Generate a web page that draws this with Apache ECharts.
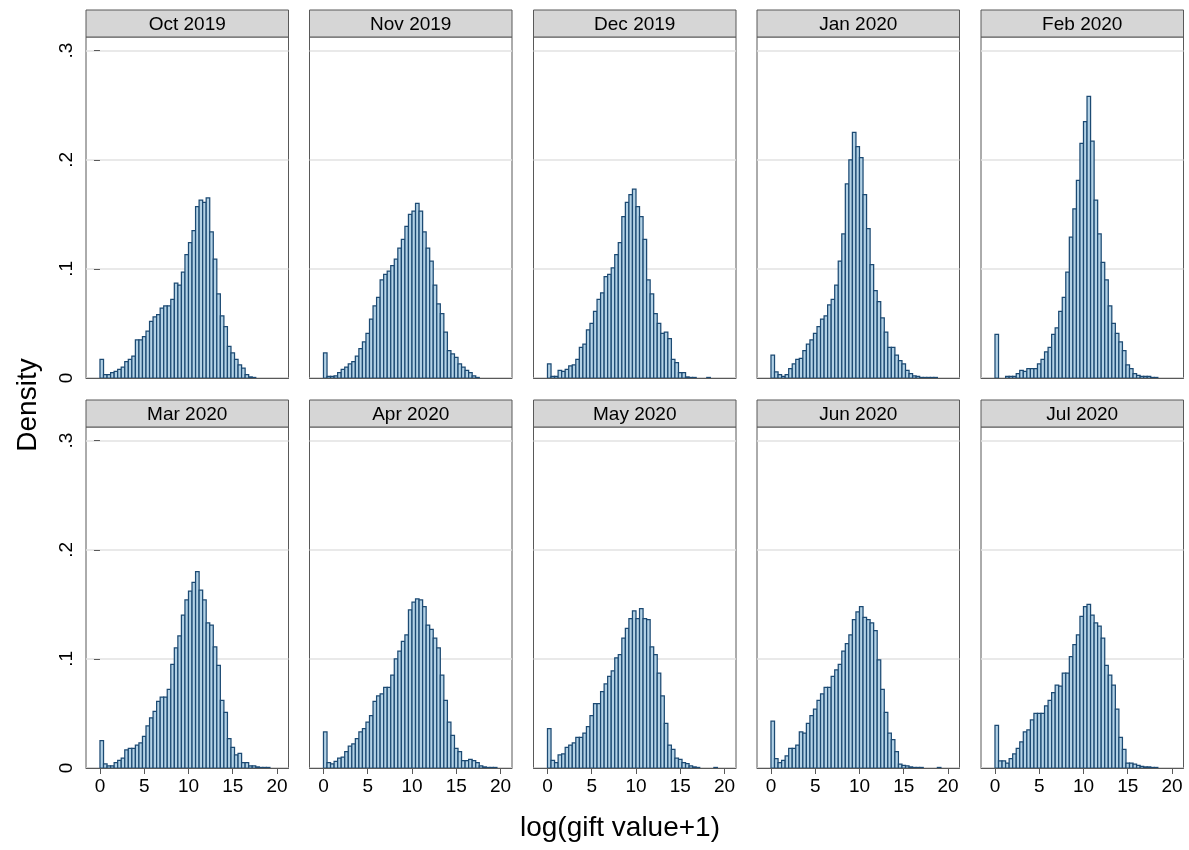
<!DOCTYPE html>
<html>
<head>
<meta charset="utf-8">
<script src="https://cdn.jsdelivr.net/npm/echarts@6/dist/echarts.min.js"></script>
<style>
html,body{margin:0;padding:0;background:#fff;}
#chart{width:1189px;height:850px;}
</style>
</head>
<body>
<div id="chart"></div>
<script>
// ---- data ----
const panelTitles = ['Oct 2019','Nov 2019','Dec 2019','Jan 2020','Feb 2020','Mar 2020','Apr 2020','May 2020','Jun 2020','Jul 2020'];
const binEdges = [0,0.4,0.8,1.2,1.6,2,2.4,2.8,3.2,3.6,4,4.4,4.8,5.2,5.6,6,6.4,6.8,7.2,7.6,8,8.4,8.8,9.2,9.6,10,10.4,10.8,11.2,11.6,12,12.4,12.8,13.2,13.6,14,14.4,14.8,15.2,15.6,16,16.4,16.8,17.2,17.6,18,18.4,18.8,19.2,19.6,20];
const xTickValues = [0,5,10,15,20];
const yTickValues = [0,0.1,0.2,0.3];
const yTickLabels = ['0','.1','.2','.3'];
const xTitle = 'log(gift value+1)';
const yTitle = 'Density';

const oct2019 = [0.017,0.003,0.003,0.005,0.006,0.008,0.010,0.015,0.017,0.020,
 0.035,0.035,0.038,0.043,0.052,0.056,0.058,0.064,0.066,0.066,
 0.072,0.087,0.085,0.097,0.113,0.124,0.135,0.157,0.163,0.161,
 0.165,0.134,0.109,0.077,0.057,0.047,0.029,0.023,0.017,0.012,
 0.009,0.003,0.001,0.0005,0,0,0,0,0,0];
const nov2019 = [0.023,0.0015,0.0015,0.002,0.005,0.008,0.010,0.013,0.015,0.020,
 0.027,0.033,0.041,0.054,0.066,0.074,0.090,0.095,0.098,0.103,
 0.109,0.119,0.127,0.139,0.150,0.153,0.160,0.153,0.134,0.119,
 0.107,0.085,0.068,0.059,0.042,0.025,0.022,0.019,0.013,0.010,
 0.007,0.005,0.002,0.0005,0,0,0,0,0,0];
const dec2019 = [0.013,0.0015,0.0015,0.007,0.006,0.008,0.011,0.012,0.017,0.028,
 0.031,0.044,0.050,0.061,0.072,0.078,0.093,0.095,0.101,0.113,
 0.124,0.148,0.161,0.168,0.173,0.157,0.148,0.127,0.090,0.077,
 0.059,0.050,0.041,0.042,0.036,0.017,0.014,0.005,0.005,0.001,
 0.0005,0.0005,0,0,0,0.0005,0,0,0,0];
const jan2020 = [0.021,0.0055,0.003,0.0015,0.003,0.0085,0.013,0.017,0.018,0.025,
 0.031,0.035,0.041,0.047,0.054,0.057,0.067,0.072,0.085,0.107,
 0.132,0.178,0.200,0.225,0.212,0.202,0.168,0.137,0.104,0.080,
 0.070,0.055,0.042,0.028,0.028,0.021,0.016,0.013,0.007,0.004,
 0.002,0.0015,0.0005,0.0005,0.0005,0.0005,0.0005,0,0,0];
const feb2020 = [0.040,0,0,0.0015,0.0015,0.0015,0.004,0.007,0.006,0.0085,
 0.0085,0.0085,0.013,0.017,0.024,0.028,0.040,0.046,0.061,0.074,
 0.097,0.129,0.155,0.181,0.215,0.235,0.258,0.217,0.163,0.132,
 0.106,0.090,0.066,0.050,0.041,0.033,0.025,0.012,0.0085,0.004,
 0.0025,0.0015,0.0015,0.0015,0.0005,0.0005,0,0,0,0];
const mar2020 = [0.025,0.0037,0.002,0.002,0.005,0.007,0.009,0.0165,0.018,0.018,
 0.021,0.023,0.029,0.0385,0.046,0.052,0.061,0.065,0.065,0.072,
 0.095,0.110,0.121,0.140,0.154,0.162,0.170,0.180,0.163,0.154,
 0.133,0.131,0.111,0.094,0.062,0.051,0.027,0.019,0.012,0.0135,
 0.005,0.005,0.002,0.002,0.001,0.0005,0.0005,0.0005,0,0];
const apr2020 = [0.033,0.005,0.0037,0.006,0.009,0.010,0.015,0.020,0.022,0.027,
 0.033,0.036,0.042,0.048,0.061,0.066,0.068,0.074,0.074,0.085,
 0.100,0.107,0.116,0.122,0.145,0.152,0.155,0.154,0.148,0.131,
 0.127,0.119,0.110,0.085,0.062,0.042,0.030,0.018,0.015,0.0067,
 0.0067,0.008,0.0067,0.005,0.002,0.001,0.0005,0.0005,0.0005,0];
const may2020 = [0.036,0.007,0.005,0.012,0.013,0.019,0.021,0.023,0.028,0.028,
 0.032,0.038,0.048,0.059,0.059,0.070,0.077,0.084,0.089,0.101,
 0.104,0.119,0.128,0.137,0.144,0.137,0.146,0.137,0.136,0.111,
 0.104,0.087,0.066,0.041,0.021,0.017,0.009,0.008,0.005,0.004,
 0.002,0.001,0.0005,0,0,0,0,0.0005,0,0];
const jun2020 = [0.043,0.0085,0.005,0.007,0.011,0.018,0.018,0.021,0.033,0.032,
 0.041,0.048,0.054,0.062,0.068,0.074,0.074,0.084,0.090,0.095,
 0.107,0.114,0.122,0.136,0.143,0.148,0.138,0.136,0.133,0.126,
 0.099,0.072,0.051,0.032,0.026,0.015,0.0035,0.0025,0.002,0.001,
 0.0005,0.0005,0.0005,0,0,0,0,0.0005,0,0];
const jul2020 = [0.039,0.0065,0.0065,0.0045,0.0085,0.013,0.018,0.024,0.033,0.035,
 0.044,0.050,0.050,0.050,0.057,0.062,0.069,0.076,0.075,0.087,
 0.087,0.102,0.113,0.122,0.139,0.148,0.150,0.140,0.133,0.130,
 0.119,0.094,0.085,0.076,0.054,0.028,0.017,0.0045,0.0045,0.0035,
 0.0025,0.0015,0.001,0.001,0.0005,0.0005,0,0,0,0];

const panelData = [oct2019,nov2019,dec2019,jan2020,feb2020,mar2020,apr2020,may2020,jun2020,jul2020];

// ---- layout / style ----
const FONT = "'Liberation Sans', Arial, Helvetica, sans-serif";
const colLeft = [86, 309.5, 533.5, 757, 981];
const rowTop = [37, 427];
const PW = 202.5, PH = 341, HEAD = 27;
const XMIN = -1.58, XMAX = 21.3, YMAX = 0.3125;
const FRAME = '#595959';
const BAR_FILL = '#b3d2e6';
const BAR_LINE = '#1c4a73';

const grids = [], xAxes = [], yAxes = [], series = [], graphics = [];

panelData.forEach(function (vals, i) {
  const r = Math.floor(i / 5), c = i % 5;
  const left = colLeft[c], top = rowTop[r];
  grids.push({left: left, top: top, width: PW, height: PH, show: true,
    backgroundColor: '#fff', borderColor: FRAME, borderWidth: 1});
  xAxes.push({
    type: 'value', gridIndex: i, min: XMIN, max: XMAX,
    axisLine: {show: true, onZero: false, lineStyle: {color: FRAME, width: 1}},
    axisTick: {show: r === 1, customValues: xTickValues, length: 6, lineStyle: {color: FRAME}},
    axisLabel: {show: r === 1, customValues: xTickValues, margin: 9, fontSize: 19,
      fontFamily: FONT, color: '#000'},
    splitLine: {show: false}
  });
  yAxes.push({
    type: 'value', gridIndex: i, min: 0, max: YMAX, interval: 0.1,
    axisLine: {show: false},
    axisTick: {show: c === 0, customValues: yTickValues, length: 6, lineStyle: {color: FRAME}},
    axisLabel: {show: c === 0, customValues: yTickValues, rotate: 90, margin: 10, fontSize: 19,
      fontFamily: FONT, color: '#000',
      formatter: function (v) {
        const k = yTickValues.findIndex(function (t) { return Math.abs(t - v) < 1e-9; });
        return k >= 0 ? yTickLabels[k] : '';
      }},
    splitLine: {show: true, lineStyle: {color: '#e2e2e2', width: 1.5}}
  });
  const data = [];
  vals.forEach(function (v, j) {
    if (v > 0) data.push([binEdges[j], binEdges[j + 1], v]);
  });
  series.push({
    type: 'custom', xAxisIndex: i, yAxisIndex: i, clip: true, silent: true,
    encode: {x: [0, 1], y: 2},
    data: data,
    renderItem: function (params, api) {
      const p0 = api.coord([api.value(0), api.value(2)]);
      const p1 = api.coord([api.value(1), 0]);
      return {
        type: 'rect',
        shape: {x: p0[0], y: p0[1], width: p1[0] - p0[0], height: p1[1] - p0[1]},
        style: {fill: BAR_FILL, stroke: BAR_LINE, lineWidth: 1.25}
      };
    }
  });
  graphics.push({
    type: 'rect', z: 100,
    shape: {x: left, y: top - HEAD, width: PW, height: HEAD},
    style: {fill: '#d6d6d6', stroke: FRAME, lineWidth: 1}
  });
  graphics.push({
    type: 'text', z: 101, x: left + PW / 2, y: top - HEAD / 2 + 1,
    style: {text: panelTitles[i], fill: '#000', font: '19px ' + FONT,
      align: 'center', verticalAlign: 'middle'}
  });
});

graphics.push({
  type: 'text', z: 101, x: 28, y: 405, rotation: Math.PI / 2,
  style: {text: yTitle, fill: '#000', font: '28px ' + FONT, align: 'center', verticalAlign: 'middle'}
});
graphics.push({
  type: 'text', z: 101, x: 620, y: 828,
  style: {text: xTitle, fill: '#000', font: '28px ' + FONT, align: 'center', verticalAlign: 'middle'}
});

const chart = echarts.init(document.getElementById('chart'), null, {renderer: 'canvas'});
chart.setOption({
  animation: false,
  backgroundColor: '#fff',
  grid: grids,
  xAxis: xAxes,
  yAxis: yAxes,
  series: series,
  graphic: graphics
});
</script>
</body>
</html>
